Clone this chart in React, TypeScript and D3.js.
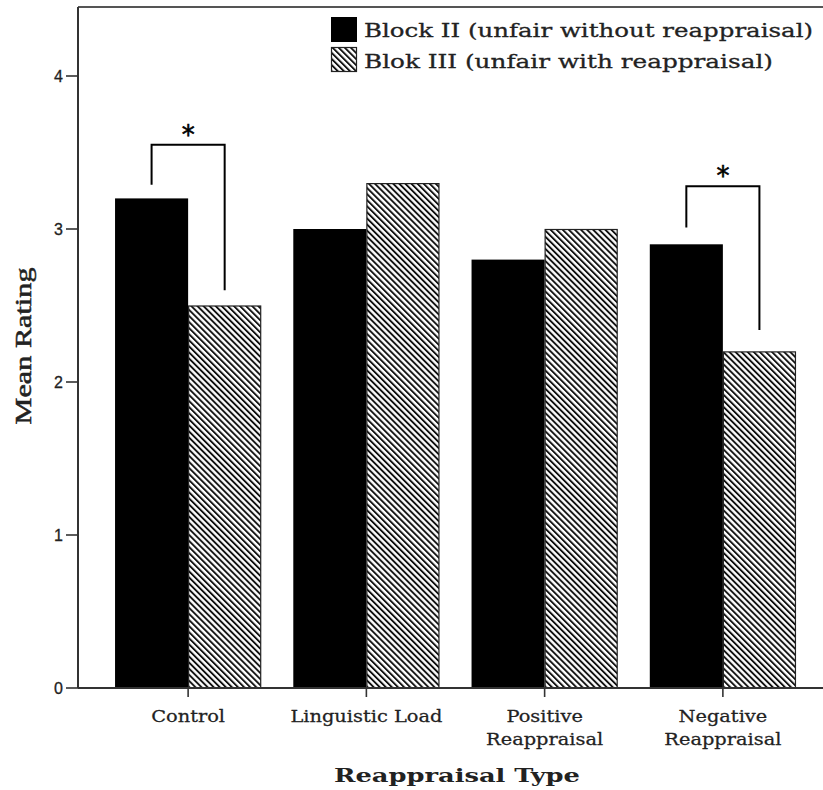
import * as d3 from "d3";

// values
const categories = ["Control", "Linguistic Load", "Positive Reappraisal", "Negative Reappraisal"];
const categoryLines = [["Control"], ["Linguistic Load"], ["Positive", "Reappraisal"], ["Negative", "Reappraisal"]];
const seriesNames = ["Block II (unfair without reappraisal)", "Blok III (unfair with reappraisal)"];
const blockII = [3.2, 3.0, 2.8, 2.9];
const blokIII = [2.5, 3.3, 3.0, 2.2];
const yTicks = [0, 1, 2, 3, 4];
// significance brackets: bracket top, start of left leg, end of right leg (in rating units)
const sigCategories = ["Control", "Negative Reappraisal"];
const sigTop = [3.55, 3.28];
const sigLeft = [3.29, 3.01];
const sigRight = [2.6, 2.34];

const W = 823;
const H = 790;
const axisX = 78;
const baseY = 688;
const topY = 7;

export default function App() {
  const y = d3.scaleLinear().domain([0, 4]).range([baseY, 76]);
  const x = d3.scaleBand().domain(categories).range([99, 812]).paddingInner(0.18).paddingOuter(0.09);
  const sub = d3.scaleBand().domain(["II", "III"]).range([0, x.bandwidth()]);

  const serif = "'DejaVu Serif', serif";

  return (
    <div style={{ position: "fixed", left: 0, top: 0 }}>
      <svg width={W} height={H} style={{ display: "block", background: "#fff" }}>
        <defs>
          <pattern id="hatch" patternUnits="userSpaceOnUse" width="4.3" height="10" patternTransform="rotate(-45)">
            <rect x="0" y="0" width="4.3" height="10" fill="#fff" />
            <rect x="0" y="0" width="1.9" height="10" fill="#111" />
          </pattern>
        </defs>

        {/* frame: top line and axes */}
        <line x1={axisX} x2={W} y1={topY} y2={topY} stroke="#555" strokeWidth={2} />
        <line x1={axisX} x2={axisX} y1={topY} y2={baseY} stroke="#333" strokeWidth={2} />

        {/* bars */}
        {categories.map((c, i) => (
          <g key={c} transform={`translate(${x(c)},0)`}>
            <rect x={sub("II")} y={y(blockII[i])} width={sub.bandwidth()} height={baseY - y(blockII[i])} fill="#000" />
            <rect x={sub("III")! + 0.5} y={y(blokIII[i]) + 0.5} width={sub.bandwidth() - 1} height={baseY - y(blokIII[i]) - 0.5}
              fill="url(#hatch)" stroke="#222" strokeWidth={1.2} />
          </g>
        ))}

        <line x1={axisX} x2={W} y1={baseY} y2={baseY} stroke="#333" strokeWidth={2} />

        {/* y ticks */}
        {yTicks.map((t) => (
          <g key={t} transform={`translate(0,${y(t)})`}>
            <line x1={66} x2={axisX} stroke="#333" strokeWidth={1.6} />
            <text x={63} dy="0.35em" textAnchor="end" fontFamily="'Liberation Sans', Arial, sans-serif" fontSize={16} fill="#222"
              stroke="#222" strokeWidth={0.3}>{t}</text>
          </g>
        ))}

        {/* x ticks and labels */}
        {categories.map((c, i) => {
          const cx = x(c)! + x.bandwidth() / 2;
          return (
            <g key={c}>
              <line x1={cx} x2={cx} y1={baseY} y2={baseY + 9} stroke="#333" strokeWidth={1.6} />
              <g transform={`translate(${cx},0) scale(1.14,1)`}>
                {categoryLines[i].map((l, j) => (
                  <text key={j} x={0} y={722 + j * 23} textAnchor="middle" fontFamily={serif} fontSize={17} fill="#222"
                    stroke="#222" strokeWidth={0.25}>{l}</text>
                ))}
              </g>
            </g>
          );
        })}

        {/* axis titles */}
        <text x={457} y={782} textAnchor="middle" fontFamily={serif} fontSize={19} fontWeight="bold" fill="#222"
          textLength={246} lengthAdjust="spacingAndGlyphs">Reappraisal Type</text>
        <text transform={`translate(31,${346}) rotate(-90)`} textAnchor="middle" fontFamily="'Liberation Serif', serif"
          fontSize={23} fill="#222" stroke="#222" strokeWidth={0.5} textLength={157} lengthAdjust="spacingAndGlyphs">Mean Rating</text>

        {/* significance brackets */}
        {sigCategories.map((c, i) => {
          const x0 = x(c)! + sub("II")! + sub.bandwidth() / 2;
          const x1 = x(c)! + sub("III")! + sub.bandwidth() / 2;
          return (
            <g key={c}>
              <path d={`M${x0},${y(sigLeft[i])}V${y(sigTop[i])}H${x1}V${y(sigRight[i])}`} fill="none" stroke="#000" strokeWidth={2} />
              <text x={(x0 + x1) / 2} y={y(sigTop[i]) - 1} textAnchor="middle" fontFamily="'DejaVu Sans', sans-serif" fontSize={26}
                fill="#000" stroke="#000" strokeWidth={0.6}>*</text>
            </g>
          );
        })}

        {/* legend */}
        <g transform="translate(331,17)">
          <rect x={0} y={0} width={26} height={25} fill="#000" />
          <text x={33} y={20} fontFamily={serif} fontSize={19} fill="#222" stroke="#222" strokeWidth={0.3}
            textLength={449} lengthAdjust="spacingAndGlyphs">{seriesNames[0]}</text>
          <rect x={0.5} y={30.5} width={25} height={24} fill="url(#hatch)" stroke="#222" strokeWidth={1.2} />
          <text x={33} y={51} fontFamily={serif} fontSize={19} fill="#222" stroke="#222" strokeWidth={0.3}
            textLength={409} lengthAdjust="spacingAndGlyphs">{seriesNames[1]}</text>
        </g>
      </svg>
    </div>
  );
}
